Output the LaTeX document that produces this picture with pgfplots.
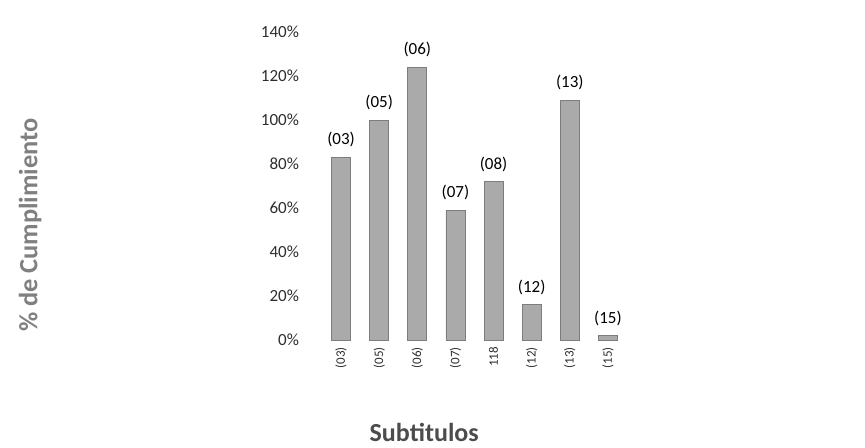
\documentclass[border=0pt]{standalone}
\usepackage{pgfplots}
\pgfplotsset{compat=1.18}
\usepackage{fontspec}
\setmainfont{Carlito}

\definecolor{barfill}{RGB}{170,170,170}
\definecolor{baredge}{RGB}{125,125,125}
\definecolor{ticktext}{RGB}{45,45,45}

\begin{document}
\begin{tikzpicture}
\path[use as bounding box] (0,0) rectangle (432.5pt,223.5pt);
\begin{axis}[
    at={(161pt,53.5pt)}, anchor=south west,
    scale only axis,
    width=152.5pt, height=154pt,
    xmin=-0.5, xmax=7.5,
    ymin=0, ymax=140,
    axis line style={draw=none},
    major tick length=0pt,
    ytick={0,20,...,140},
    yticklabel={\pgfmathprintnumber{\tick}\%},
    /pgf/number format/assume math mode=true,
    yticklabel style={font=\fontsize{8.5}{10}\selectfont, text=ticktext, xshift=-8pt},
    xtick=data,
    xticklabels={{(03)},{(05)},{(06)},{(07)},{118},{(12)},{(13)},{(15)}},
    xticklabel style={font=\fontsize{6.5}{8}\selectfont, text=ticktext, rotate=90, anchor=east},
    ybar, bar width=9.5pt,
    point meta=explicit symbolic,
    nodes near coords,
    nodes near coords style={font=\fontsize{8.5}{10}\selectfont, text=black, yshift=1.5pt},
    xlabel={Subtitulos},
    ylabel={\% de Cumplimiento},
    xlabel style={font=\fontsize{13}{15}\selectfont\bfseries, text=black!70,
        at={(axis description cs:0.335,-0.30)}, anchor=center},
    ylabel style={font=\fontsize{13.2}{15}\selectfont\bfseries, text=black!50,
        at={(axis description cs:-0.957,0.373)}, anchor=center, rotate=0},
]
\addplot[fill=barfill, draw=baredge] table[x=x, y=y, meta=lbl] {
x y lbl
0 83 (03)
1 100 (05)
2 124 (06)
3 59 (07)
4 72 (08)
5 16 (12)
6 109 (13)
7 2 (15)
};
\end{axis}
\end{tikzpicture}
\end{document}
